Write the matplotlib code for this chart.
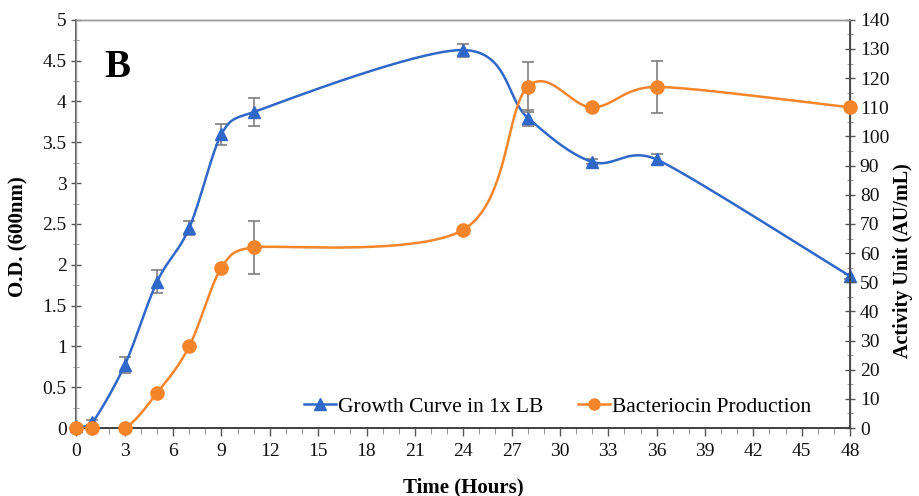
import numpy as np
import matplotlib
matplotlib.use("Agg")
import matplotlib.pyplot as plt
from matplotlib.ticker import MultipleLocator, FormatStrFormatter
from matplotlib.lines import Line2D

plt.rcParams['font.family'] = ['Liberation Serif', 'DejaVu Serif']

# Growth curve (O.D. 600nm)
growth_t = [0, 1, 3, 5, 7, 9, 11, 24, 28, 32, 36, 48]
growth_od = [0.02, 0.07, 0.77, 1.79, 2.45, 3.6, 3.87, 4.63, 3.8, 3.26, 3.29, 1.86]
growth_err = [0.0, 0.03, 0.1, 0.14, 0.08, 0.13, 0.17, 0.08, 0.1, 0.03, 0.07, 0.03]

# Bacteriocin production (AU/mL)
bact_t = [0, 1, 3, 5, 7, 9, 11, 24, 28, 32, 36, 48]
bact_au = [0, 0, 0, 12, 28, 55, 62, 68, 117, 110, 117, 110]
bact_err = [0, 0, 0, 0, 0, 0, 9, 0, 8.5, 0, 9, 0]

BLUE = '#2f68c8'
ORANGE = '#f5852a'
GREY = '#7f7f7f'


def smooth(x, y, sx, sy, n=40):
    # Excel-like smoothed line, Bezier control points worked out in pixel space
    P = np.column_stack([np.asarray(x, float) * sx, np.asarray(y, float) * sy])
    m = len(P)
    cin = P.copy()
    cout = P.copy()
    for i in range(m):
        a = P[max(i - 1, 0)]
        b = P[min(i + 1, m - 1)]
        d = b - a
        d02 = np.hypot(*d)
        if d02 == 0:
            continue
        u = d / d02
        d01 = np.hypot(*(P[i] - a)) if i > 0 else np.inf
        d12 = np.hypot(*(b - P[i])) if i < m - 1 else np.inf
        mag = min(d02 / 6, d01 / 2, d12 / 2)
        cin[i] = P[i] - u * mag
        cout[i] = P[i] + u * mag
    s = np.linspace(0, 1, n)[:, None]
    pts = []
    for i in range(m - 1):
        p0, c1, c2, p3 = P[i], cout[i], cin[i + 1], P[i + 1]
        pts.append((1 - s) ** 3 * p0 + 3 * (1 - s) ** 2 * s * c1
                   + 3 * (1 - s) * s ** 2 * c2 + s ** 3 * p3)
    pts = np.vstack(pts)
    return pts[:, 0] / sx, pts[:, 1] / sy


fig = plt.figure(figsize=(9.2, 4.96), dpi=100)
ax = fig.add_axes([0.083, 0.137, 0.841, 0.823])
ax2 = ax.twinx()

px_x = 774 / 48
gx, gy = smooth(growth_t, growth_od, px_x, 408 / 5)
ax.plot(gx, gy, color=BLUE, lw=1.8, zorder=3)
ax.errorbar(growth_t, growth_od, yerr=growth_err, fmt='none', ecolor=GREY,
            elinewidth=1.2, capsize=4.5, capthick=1.2, zorder=2)
ax.plot(growth_t, growth_od, '^', color=BLUE, ms=8.5, zorder=4, clip_on=False)

bx, by = smooth(bact_t, bact_au, px_x, 408 / 140)
ax2.plot(bx, by, color=ORANGE, lw=1.8, zorder=3)
ax2.errorbar(bact_t, bact_au, yerr=bact_err, fmt='none', ecolor=GREY,
             elinewidth=1.2, capsize=4.5, capthick=1.2, zorder=2)
ax2.plot(bact_t, bact_au, 'o', color=ORANGE, ms=9.5, zorder=4, clip_on=False)

ax.set_xlim(0, 48)
ax.set_ylim(0, 5)
ax2.set_ylim(0, 140)
ax.xaxis.set_major_locator(MultipleLocator(3))
ax.xaxis.set_minor_locator(MultipleLocator(1))
ax.yaxis.set_major_locator(MultipleLocator(0.5))
ax.yaxis.set_minor_locator(MultipleLocator(0.25))
ax.yaxis.set_major_formatter(FormatStrFormatter('%g'))
ax2.yaxis.set_major_locator(MultipleLocator(10))
ax2.yaxis.set_minor_locator(MultipleLocator(5))

for a in (ax, ax2):
    a.tick_params(which='major', direction='inout', length=7, width=1, labelsize=14,
                  colors='#555555', labelcolor='#111111')
    a.tick_params(which='minor', direction='inout', length=5, width=0.8, colors='#999999')
    for sp in a.spines.values():
        sp.set_color('#999999')
        sp.set_linewidth(1)
ax.tick_params(axis='x', which='major', direction='out', length=6)
ax.tick_params(axis='x', which='minor', direction='out', length=4)
ax.spines['left'].set_color('#444444')
ax.spines['left'].set_linewidth(1.3)
ax.spines['bottom'].set_color('#444444')
ax.spines['bottom'].set_linewidth(1.3)
ax2.spines['right'].set_color('#444444')
ax2.spines['right'].set_linewidth(1.3)
ax2.spines['bottom'].set_color('#444444')
ax2.spines['bottom'].set_linewidth(1.3)
ax.tick_params(axis='x', pad=5)

ax.set_xlabel('Time (Hours)', fontsize=15, fontweight='bold', labelpad=12)
ax.set_ylabel('O.D. (600nm)', fontsize=15, fontweight='bold')
ax.yaxis.set_label_coords(-0.062, 0.468)
ax2.set_ylabel('Activity Unit (AU/mL)', fontsize=14.5, fontweight='bold')
ax2.yaxis.set_label_coords(1.056, 0.41)

ax.text(0.036, 0.86, 'B', transform=ax.transAxes, fontsize=28, fontweight='bold')

handles = [Line2D([], [], color=BLUE, marker='^', ms=8, lw=1.8),
           Line2D([], [], color=ORANGE, marker='o', ms=8, lw=1.8)]
ax2.legend(handles, ['Growth Curve in 1x LB', 'Bacteriocin Production'],
           loc='center', bbox_to_anchor=(0.622, 0.052), ncol=2, frameon=False,
           fontsize=15.5, handlelength=1.5, handletextpad=0.1, columnspacing=1.6,
           borderpad=0, borderaxespad=0)

fig.savefig('out.png', dpi=100)
